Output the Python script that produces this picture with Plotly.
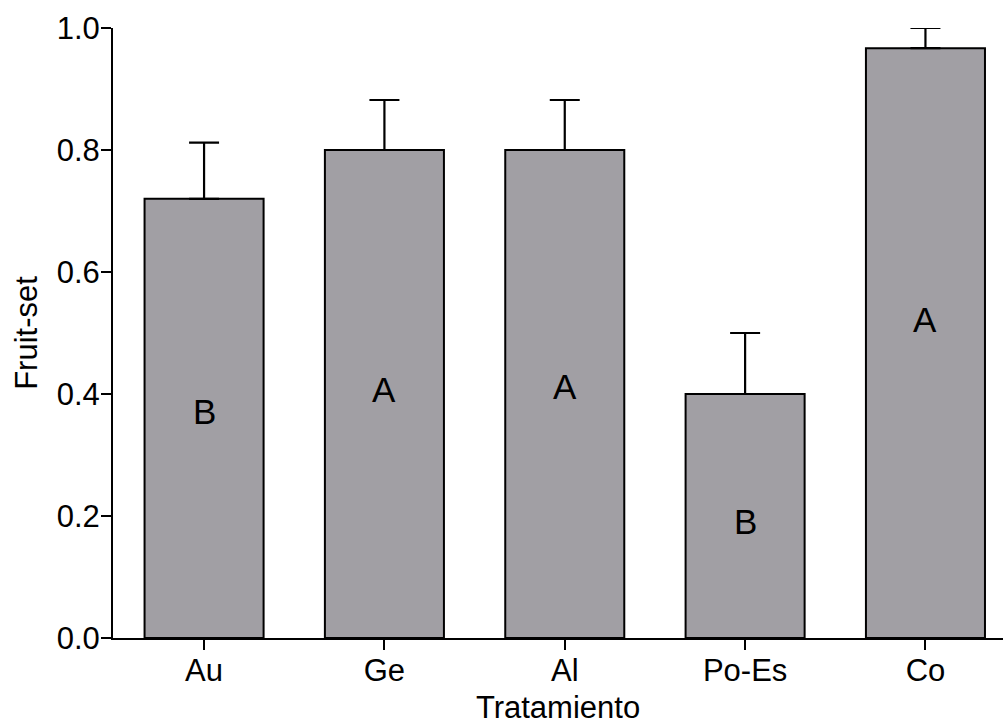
import plotly.graph_objects as go

categories = ["Au", "Ge", "Al", "Po-Es", "Co"]
fruit_set = [0.72, 0.80, 0.80, 0.40, 0.967]
sem = [0.092, 0.082, 0.082, 0.10, 0.033]
letters = ["B", "A", "A", "B", "A"]
letter_y = [0.371, 0.408, 0.412, 0.191, 0.522]
y_ticks = [0.0, 0.2, 0.4, 0.6, 0.8, 1.0]

FONT = "Liberation Sans, Arial, sans-serif"

fig = go.Figure()
fig.add_trace(go.Bar(
    x=categories, y=fruit_set, width=0.66,
    marker=dict(color="#A19FA4", line=dict(color="black", width=2)),
    error_y=dict(type="data", array=sem, arrayminus=[0]*len(sem), symmetric=False,
                 color="black", thickness=2.2, width=15),
    cliponaxis=False, showlegend=False,
))

for c, l, y in zip(categories, letters, letter_y):
    fig.add_annotation(x=c, y=y, xref="x", yref="y", text=l, showarrow=False,
                       font=dict(family=FONT, size=35, color="black"))

fig.update_layout(
    width=1003, height=727,
    margin=dict(l=113, r=0, t=28, b=89),
    paper_bgcolor="white", plot_bgcolor="white",
    font=dict(family=FONT, size=31, color="black"),
    xaxis=dict(type="category", range=[-0.505, 4.43], showgrid=False, zeroline=False,
               showline=True, linecolor="black", linewidth=2,
               ticks="outside", ticklen=10, tickwidth=2, tickcolor="black",
               ticklabelstandoff=-6, tickfont=dict(size=31),
               title=dict(text="Tratamiento", font=dict(size=31), standoff=9)),
    yaxis=dict(range=[0, 1], tickvals=y_ticks, tickformat=".1f", showgrid=False, zeroline=False,
               showline=True, linecolor="black", linewidth=2,
               ticks="outside", ticklen=10, tickwidth=2, tickcolor="black",
               ticklabelstandoff=-5, tickfont=dict(size=31),
               title=dict(text="Fruit-set", font=dict(size=31), standoff=10)),
)

fig.write_html("out.html")
